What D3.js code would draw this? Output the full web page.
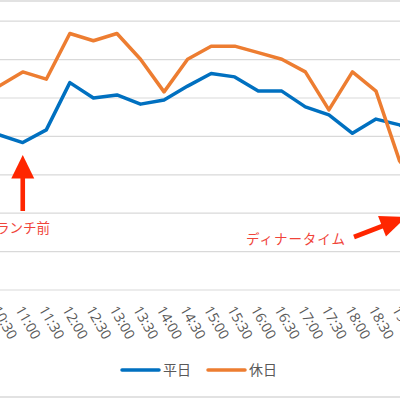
<!DOCTYPE html>
<html><head><meta charset="utf-8">
<script src="https://cdn.jsdelivr.net/npm/d3@7"></script>
<style>
html,body{margin:0;padding:0;background:#fff;overflow:hidden;}
svg{display:block;}
</style></head>
<body>
<svg id="c" width="400" height="400"></svg>
<script>
const times = ["10:30","11:00","11:30","12:00","12:30","13:00","13:30","14:00","14:30","15:00","15:30","16:00","16:30","17:00","17:30","18:00","18:30","19:00","19:30"];
const weekday = [40.4,38.4,41.7,54.0,50.0,50.8,48.4,49.5,53.1,56.4,55.5,51.8,51.8,47.7,45.6,40.8,44.5,43.0,39.0];
const holiday = [53.1,56.8,54.9,66.8,64.9,66.8,60.1,51.6,60.1,63.5,63.5,61.8,60.1,56.8,46.9,56.8,51.8,33.6,26.0];
const yTicks = [0,10,20,30,40,50,60,70];
const seriesNames = ["平日","休日"];
const colors = ["#0070c0","#ed7d31"];

const svg = d3.select("#c");
const x = d3.scalePoint().domain(times).range([-0.8, -0.8 + 18*23.55]);
const y = d3.scaleLinear().domain([0,70]).range([290, 21.2]);

// chart border (top/bottom)
svg.append("line").attr("x1",0).attr("x2",400).attr("y1",1).attr("y2",1).attr("stroke","#d9d9d9").attr("stroke-width",1.5);
svg.append("line").attr("x1",0).attr("x2",400).attr("y1",397).attr("y2",397).attr("stroke","#d9d9d9").attr("stroke-width",1.5);

// gridlines
svg.append("g").selectAll("line").data(yTicks).join("line")
  .attr("x1",0).attr("x2",400)
  .attr("y1",d=>y(d)).attr("y2",d=>y(d))
  .attr("stroke","#d9d9d9").attr("stroke-width",1.2);

// x axis labels
const xAxis = d3.axisBottom(x).tickSize(0).tickPadding(0);
const gx = svg.append("g").attr("transform","translate(0,290)").call(xAxis);
gx.select(".domain").remove();
gx.selectAll("text")
  .attr("fill","#595959")
  .style("font-family","'Open Sans','Noto Sans',sans-serif")
  .style("font-size","14px")
  .attr("text-anchor","start")
  .attr("dy","0.35em")
  .attr("y",0).attr("x",0)
  .attr("transform","translate(-4,17) rotate(60)");

// lines
const line = d3.line().x((d,i)=>x(times[i])).y(d=>y(d));
[weekday, holiday].forEach((s,k)=>{
  svg.append("path").datum(s).attr("d",line)
    .attr("fill","none").attr("stroke",colors[k]).attr("stroke-width",3.5)
    .attr("stroke-linejoin","round").attr("stroke-linecap","round");
});

// legend
const lg = svg.append("g");
const legX = [122, 208];
seriesNames.forEach((n,k)=>{
  lg.append("line").attr("x1",legX[k]).attr("x2",legX[k]+37).attr("y1",370).attr("y2",370)
    .attr("stroke",colors[k]).attr("stroke-width",3.5).attr("stroke-linecap","round");
  lg.append("text").attr("x",legX[k]+41).attr("y",375).text(n)
    .attr("fill","#595959").style("font-family","'Noto Sans CJK JP',sans-serif").style("font-size","14px");
});

// annotations
const red = "#ff2600";
const ax = x("11:00");
svg.append("rect").attr("x",ax-2.3).attr("y",176).attr("width",4.6).attr("height",35).attr("fill",red);
svg.append("path").attr("d",`M${ax-11.5},178.5 L${ax},155 L${ax+11.5},178.5 Z`).attr("fill",red);
svg.append("text").attr("x",50).attr("y",233).attr("text-anchor","end").text("ランチ前")
  .attr("fill","#f0443a").style("font-family","'Noto Sans CJK JP',sans-serif").style("font-size","13.5px");
svg.append("text").attr("x",246).attr("y",244).text("ディナータイム")
  .attr("fill","#f0443a").style("font-family","'Noto Sans CJK JP',sans-serif").style("font-size","13.5px").attr("textLength",99);
// dinner arrow
const g2 = svg.append("g").attr("transform",`translate(354,237) rotate(-21)`);
g2.append("rect").attr("x",0).attr("y",-2.4).attr("width",32).attr("height",4.8).attr("fill",red);
g2.append("path").attr("d","M30,-11 L56,0 L30,11 Z").attr("fill",red);
</script>
</body></html>
